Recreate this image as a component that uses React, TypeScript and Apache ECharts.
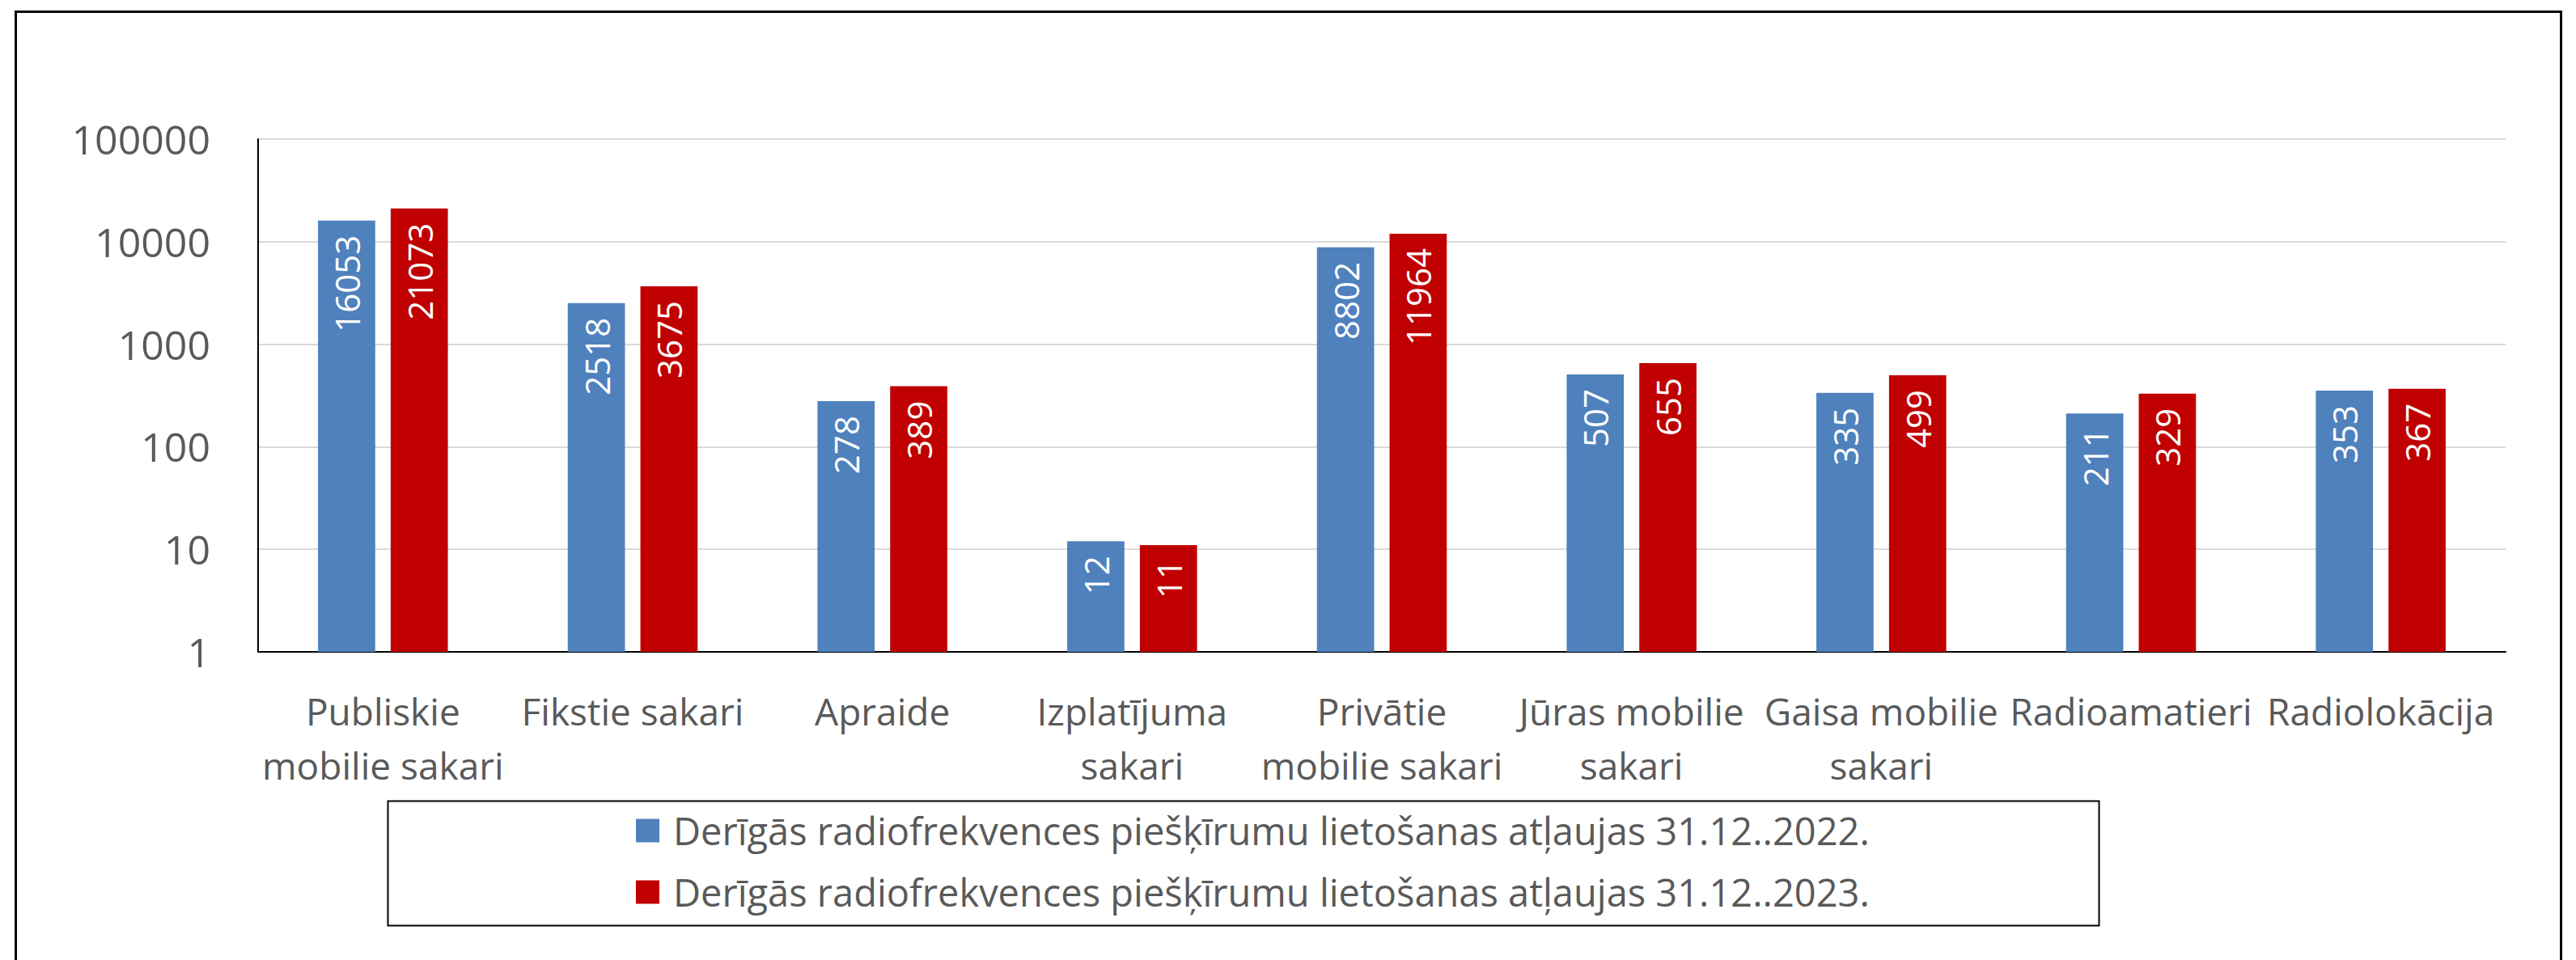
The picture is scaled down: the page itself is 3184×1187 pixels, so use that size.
import React, { useEffect, useRef } from "react";
import * as echarts from "echarts";

const categories = [
  "Publiskie\nmobilie sakari",
  "Fikstie sakari",
  "Apraide",
  "Izplatījuma\nsakari",
  "Privātie\nmobilie sakari",
  "Jūras mobilie\nsakari",
  "Gaisa mobilie\nsakari",
  "Radioamatieri",
  "Radiolokācija",
];

const seriesNames = [
  "Derīgās radiofrekvences piešķīrumu lietošanas atļaujas 31.12..2022.",
  "Derīgās radiofrekvences piešķīrumu lietošanas atļaujas 31.12..2023.",
];

const values2022 = [16053, 2518, 278, 12, 8802, 507, 335, 211, 353];
const values2023 = [21073, 3675, 389, 11, 11964, 655, 499, 329, 367];

const colors = ["#4F81BD", "#C00000"];

const FONT = "'Open Sans', 'Noto Sans', sans-serif";
const TEXT_COLOR = "#595959";

export default function App() {
  const ref = useRef<HTMLDivElement>(null);

  useEffect(() => {
    if (!ref.current) return;
    const chart = echarts.init(ref.current, null, { renderer: "svg" });

    const labelOpt = {
      show: true,
      position: "insideTop",
      rotate: 90,
      align: "right",
      verticalAlign: "middle",
      distance: 18,
      color: "#FFFFFF",
      fontSize: 42,
      fontFamily: FONT,
    };

    chart.setOption({
      animation: false,
      backgroundColor: "#FFFFFF",
      textStyle: { fontFamily: FONT },
      grid: { left: 319, right: 87, top: 172, bottom: 381, containLabel: false },
      legend: {
        orient: "vertical",
        left: 786,
        top: 1002,
        padding: 0,
        itemWidth: 29,
        itemHeight: 29,
        itemGap: 26,
        icon: "rect",
        textStyle: {
          fontSize: 47,
          lineHeight: 50,
          color: TEXT_COLOR,
          fontFamily: FONT,
          padding: [0, 0, 0, 12],
        },
        data: seriesNames,
      },
      xAxis: {
        type: "category",
        data: categories,
        axisTick: { show: false },
        axisLine: { show: true, lineStyle: { color: "#000000", width: 2 } },
        axisLabel: {
          interval: 0,
          fontSize: 46,
          lineHeight: 67,
          margin: 39,
          color: TEXT_COLOR,
          fontFamily: FONT,
        },
      },
      yAxis: {
        type: "log",
        logBase: 10,
        min: 1,
        max: 100000,
        axisLine: { show: true, lineStyle: { color: "#000000", width: 2 } },
        axisTick: { show: false },
        splitLine: { show: true, lineStyle: { color: "#D9D9D9", width: 2 } },
        axisLabel: {
          fontSize: 50,
          margin: 59,
          color: TEXT_COLOR,
          fontFamily: FONT,
          formatter: (v: number) => String(Math.round(v)),
        },
      },
      series: [
        {
          name: seriesNames[0],
          type: "bar",
          data: values2022,
          itemStyle: { color: colors[0] },
          barGap: "27%",
          barCategoryGap: "48%",
          label: labelOpt,
        },
        {
          name: seriesNames[1],
          type: "bar",
          data: values2023,
          itemStyle: { color: colors[1] },
          barGap: "27%",
          barCategoryGap: "48%",
          label: labelOpt,
        },
      ],
      graphic: [
        {
          type: "rect",
          left: 17,
          top: 12,
          shape: { x: 0, y: 0, width: 3146, height: 1200 },
          style: { fill: "none", stroke: "#000000", lineWidth: 3 },
          silent: true,
        },
        {
          type: "rect",
          left: 477,
          top: 988,
          shape: { x: 0, y: 0, width: 2115, height: 154 },
          style: { fill: "none", stroke: "#000000", lineWidth: 2 },
          silent: true,
        },
      ],
    });

    return () => chart.dispose();
  }, []);

  return (
    <div
      ref={ref}
      style={{ position: "fixed", left: 0, top: 0, width: 3184, height: 1187 }}
    />
  );
}
